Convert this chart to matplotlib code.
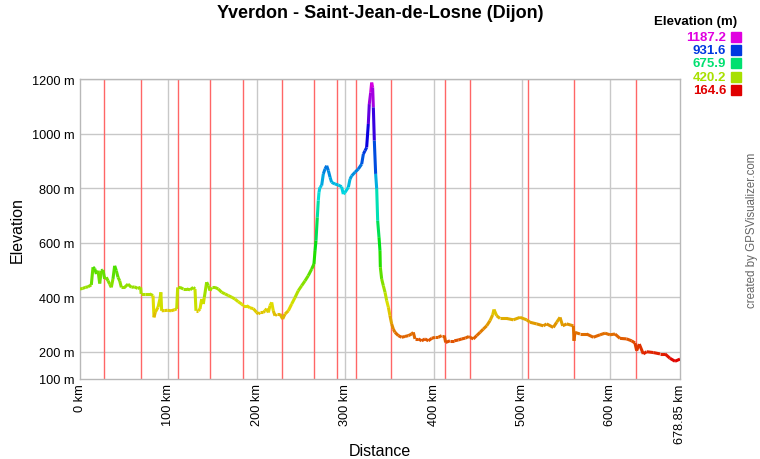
import numpy as np
import matplotlib
matplotlib.use("Agg")
import matplotlib.pyplot as plt
from matplotlib.collections import LineCollection
from matplotlib.colors import hsv_to_rgb

plt.rcParams['font.family'] = ['Liberation Sans', 'DejaVu Sans']

title = "Yverdon - Saint-Jean-de-Losne (Dijon)"
distance_km = [
    0.0, 3, 6, 9, 12.8, 14.7, 16.6, 18.5, 20.4, 22.3, 24.1, 26, 27.9, 29.8, 31.7, 33.6,
    35.4, 37.3, 39.2, 41.1, 43, 44.9, 46.8, 50.5, 54.3, 58.1, 61.9, 65, 68.6, 69.2,
    73.2, 78.8, 82.6, 83.7, 85.2, 88.3, 90.5, 91.5, 92.4, 95.8, 99, 103, 107, 109.4,
    110.5, 113.1, 116.9, 120.7, 124.5, 128.2, 130.1, 131.2, 133.9, 135.8, 137.6, 139.5,
    140.7, 143.3, 145.2, 147.1, 149, 152.7, 156.5, 160.3, 164.1, 167.8, 171.6, 175.4,
    179.1, 182.9, 184.8, 188.6, 192.3, 196.1, 199.9, 201.8, 203.7, 207.4, 209.3, 211.2,
    213.1, 215, 216.9, 218.7, 220.6, 222.5, 226.3, 229.3, 231.9, 235.7, 239.5, 243.3,
    247, 250.8, 254.6, 258.3, 262.1, 264.7, 265.9, 267, 268.5, 269.6, 270.4, 271.5,
    273.4, 275.3, 277.2, 279.1, 281, 282.9, 284.7, 288.5, 292.3, 296, 297.9, 299.8,
    303.6, 305.5, 307.4, 311.1, 314.9, 318.7, 320.6, 322.5, 324.3, 326.2, 327.3, 328.9,
    330, 331.1, 331.9, 333, 334.5, 335.7, 336.8, 338.3, 339.4, 339.8, 341.3, 343.2,
    345.1, 347, 348.9, 350.7, 352.6, 354.5, 356.4, 360.2, 363.9, 367.7, 371.5, 375.3,
    377.1, 379, 382.8, 386.6, 390.3, 394.1, 397.9, 401.7, 405.4, 409.2, 412.2, 413.7,
    418.6, 423.5, 428, 432, 436, 440, 441.2, 445, 448.8, 452.6, 456.3, 460.1, 463.9,
    466.9, 468.4, 471.4, 475.2, 482.7, 490.3, 497.8, 505.4, 509.1, 516.7, 524.2, 528,
    535.5, 539.3, 543.1, 546.1, 550.6, 558.2, 558.9, 560, 565.7, 573.2, 580.8, 588.3,
    594, 599.6, 605.3, 610.9, 618.5, 624.1, 627.9, 629.8, 632.8, 637.3, 641.1, 648.7,
    656.2, 661.9, 667.5, 673.2, 678.85]
elevation_m = [
    430, 432, 436, 438, 445, 510, 505, 485, 497, 450, 497, 500, 467, 473, 460, 448,
    436, 467, 515, 497, 473, 460, 436, 436, 448, 436, 438, 432, 436, 412,
    412, 412, 406, 326, 345, 363, 395, 418, 350, 351, 352, 350, 354, 357,
    436, 436, 430, 430, 427, 436, 430, 350, 350, 357, 393, 375,
    400, 455, 442, 424, 436, 436, 430, 418, 412, 406, 400, 393,
    383, 375, 369, 369, 361, 358, 344, 338, 344, 344, 350, 358,
    344, 369, 381, 350, 332, 338, 338, 320, 338, 350, 375, 399,
    424, 442, 460, 479, 503, 522, 570, 607, 693, 754, 785, 803,
    809, 852, 870, 882, 864, 840, 821, 815, 811, 805, 778, 784,
    803, 833, 845, 858, 870, 888, 925, 937, 949, 1035, 1108, 1151,
    1187, 1169, 1096, 974, 852, 797, 680, 620, 570, 510, 467, 442,
    418, 387, 363, 332, 302, 283, 271, 259, 253, 256, 259, 265,
    271, 247, 247, 240, 247, 240, 249, 253, 253, 259, 259, 234,
    240, 240, 243, 247, 250, 256, 253, 247, 259, 271, 283, 295, 314,
    335, 355, 332, 322, 322, 317, 326, 317, 308, 302, 295, 302,
    289, 308, 326, 295, 302, 295, 240, 271, 265, 265, 253, 262,
    268, 262, 265, 249, 247, 240, 232, 204, 228, 192, 200, 197,
    192, 192, 176, 165, 173]
marker_km = [26.8, 69.2, 111.1, 147.4, 184.5, 228.8, 265.1, 290.9, 312.2, 352.2,
             413.3, 441.4, 506.7, 558.9, 629.3]
legend_values = [1187.2, 931.6, 675.9, 420.2, 164.6]
x_ticks = [0, 100, 200, 300, 400, 500, 600, 678.85]
x_tick_labels = ["0 km", "100 km", "200 km", "300 km", "400 km", "500 km", "600 km", "678.85 km"]
y_ticks = [100, 200, 400, 600, 800, 1000, 1200]
y_tick_labels = ["100 m", "200 m", "400 m", "600 m", "800 m", "1000 m", "1200 m"]

vmin, vmax = min(legend_values), max(legend_values)


def elev_color(v):
    h = np.clip((np.asarray(v) - vmin) / (vmax - vmin), 0, 1) * (300.0 / 360.0)
    hsv = np.stack([h, np.ones_like(h), np.full_like(h, 0.88)], axis=-1)
    return hsv_to_rgb(hsv)


fig = plt.figure(figsize=(7.6, 4.6), dpi=100)
ax = fig.add_axes([80 / 760, 1 - 380 / 460, 600 / 760, 300 / 460])
ax.set_xlim(0, 678.85)
ax.set_ylim(100, 1200)

grid_c = '#c8c8c8'
for yv in y_ticks[1:]:
    ax.axhline(yv, color=grid_c, lw=1, zorder=1)
for xv in x_ticks[1:-1]:
    ax.axvline(xv, color=grid_c, lw=1, zorder=1)
for xv in marker_km:
    ax.axvline(xv, color='#ff6666', lw=1, zorder=2)

x = np.array(distance_km, float)
y = np.array(elevation_m, float)
pts = np.column_stack([x, y]).reshape(-1, 1, 2)
segs = np.concatenate([pts[:-1], pts[1:]], axis=1)
cols = elev_color((y[:-1] + y[1:]) / 2)
lc = LineCollection(segs, colors=cols, linewidths=2.2, capstyle='butt', joinstyle='miter', zorder=3)
ax.add_collection(lc)

for s in ax.spines.values():
    s.set_color('#b8b8b8')
    s.set_linewidth(1)

ax.set_xticks(x_ticks)
ax.set_xticklabels(x_tick_labels, rotation=90, fontsize=9.2)
ax.set_yticks(y_ticks)
ax.set_yticklabels(y_tick_labels, fontsize=9.2)
ax.tick_params(length=0, pad=3, colors='black')
ax.tick_params(axis='y', pad=4)
ax.set_xlabel("Distance", fontsize=11.5)
ax.set_ylabel("Elevation", fontsize=11.5)
ax.xaxis.set_label_coords(0.5, (380 - 452) / 300)
ax.yaxis.set_label_coords((17 - 80) / 600, 0.5)
ax.xaxis.label.set_va('center')
ax.yaxis.label.set_va('center')

fig.text(0.5, 1 - 14 / 460, title, ha='center', va='center', fontsize=13, fontweight='bold')

fig.text(737 / 760, 1 - 22 / 460, "Elevation (m)", ha='right', va='center', fontsize=9.5, fontweight='bold')
for i, v in enumerate(legend_values):
    yy = 38 + i * 13.2
    c = elev_color(v)
    fig.text(726 / 760, 1 - yy / 460, f"{v:.1f}", ha='right', va='center', fontsize=9.5,
             fontweight='bold', color=c)
    fig.patches.append(plt.Rectangle(((731) / 760, 1 - (yy + 5) / 460), 10 / 760, 10 / 460,
                                     transform=fig.transFigure, color=c, figure=fig))

fig.text(752 / 760, 1 - 230 / 460, "created by GPSVisualizer.com", rotation=90, ha='center',
         va='center', fontsize=8.3, color='#666666')

fig.savefig("out.png", dpi=100)
